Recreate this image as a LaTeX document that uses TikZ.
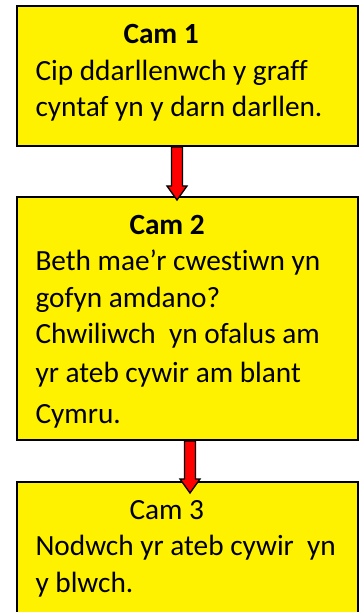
\documentclass[tikz,border=0pt]{standalone}
\usepackage{fontspec}
\setmainfont{Carlito}[Ligatures=CommonOff]
\usetikzlibrary{calc}

\tikzset{
  stepbox/.style={draw=black, line width=2pt, fill=yellow, anchor=north west,
    inner sep=0pt, minimum width=341pt},
  steptext/.style={anchor=base west, text width=320pt, align=flush left, inner sep=0pt,
    font=\fontsize{29.3}{36.5}\selectfont},
  steparrow/.style={fill=red, draw=black, line width=1.3pt, line join=miter},
}

% block arrow from #1 (start) to #2 (tip)
\newcommand{\blockarrow}[2]{%
  \draw[steparrow] ($(#1)+(-5.5,0)$) -- ($(#2)+(-5.5,-14)$) -- ($(#2)+(-10,-14)$)
    -- (#2) -- ($(#2)+(10,-14)$) -- ($(#2)+(5.5,-14)$) -- ($(#1)+(5.5,0)$) -- cycle;}

\begin{document}
\begin{tikzpicture}[x=1pt, y=-1pt]
  \useasboundingbox (0,0) rectangle (363,612);
  \clip (0,0) rectangle (363,612);

  \node[stepbox, minimum height=140pt] (cam1) at (16.3,5) {};
  \node[stepbox, minimum height=243pt] (cam2) at (16.3,196) {};
  \node[stepbox, minimum height=145pt] (cam3) at (16.3,481) {};

  \node[steptext] (text1) at ($(cam1.north west)+(19,39)$)
    {\hspace*{88pt}\textbf{Cam 1}\\
     Cip ddarllenwch y graff\\
     cyntaf yn y darn darllen.};
  \node[steptext] (text2) at ($(cam2.north west)+(19,38)$)
    {\hspace*{94pt}\textbf{Cam 2}\\
     Beth mae’r cwestiwn yn\\
     gofyn amdano?\\
     Chwiliwch~ yn ofalus am\\[2.5pt]
     yr ateb cywir am blant\\[4pt]
     Cymru.};
  \node[steptext] (text3) at ($(cam3.north west)+(19,38)$)
    {\hspace*{94pt}Cam 3\\
     Nodwch yr ateb cywir~ yn\\
     y blwch.};

  \coordinate (a1) at ($(cam1.south west)+(160.7,0)$);
  \coordinate (b1) at ($(cam2.north west)+(160.7,4)$);
  \coordinate (a2) at ($(cam2.south west)+(173.7,0)$);
  \coordinate (b2) at ($(cam3.north west)+(173.7,12)$);
  \blockarrow{a1}{b1}
  \blockarrow{a2}{b2}
\end{tikzpicture}
\end{document}
